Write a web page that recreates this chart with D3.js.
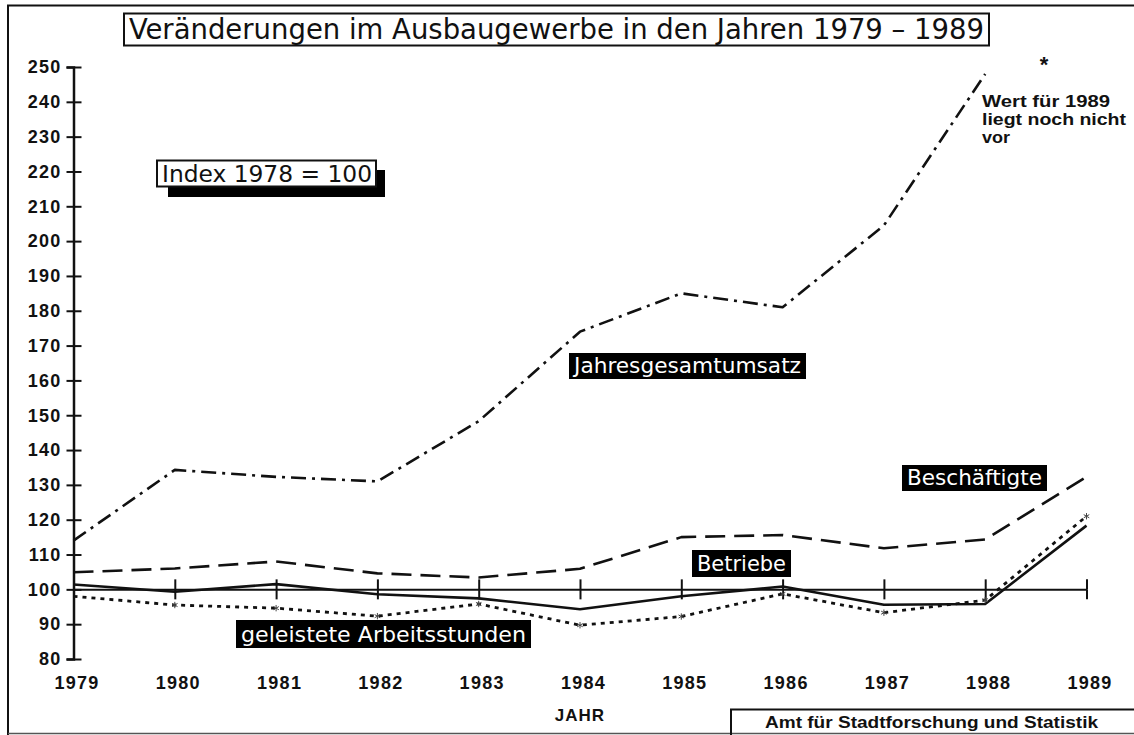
<!DOCTYPE html>
<html>
<head>
<meta charset="utf-8">
<script src="https://cdn.jsdelivr.net/npm/d3@7"></script>
<style>
  html, body { margin: 0; padding: 0; background: #fff; }
  svg { display: block; }
  .plot { font-family: "DejaVu Sans Condensed", "Liberation Sans Narrow", "DejaVu Sans", sans-serif; }
  .bold { font-family: "Liberation Sans", Arial, sans-serif; font-weight: bold; }
</style>
</head>
<body>
<svg id="chart" width="1134" height="735"></svg>
<script>
const years = [1979, 1980, 1981, 1982, 1983, 1984, 1985, 1986, 1987, 1988, 1989];
const umsatz = [114, 134.3, 132.3, 131, 148.3, 174, 185, 181, 204.5, 248, null];
const beschaeftigte = [104.9, 106, 108, 104.6, 103.4, 105.9, 115, 115.6, 111.8, 114.3, 132.3];
const betriebe = [101.4, 99.3, 101.5, 98.6, 97.4, 94.3, 98, 100.8, 95.6, 95.8, 118.3];
const stunden = [98, 95.5, 94.6, 92.3, 95.8, 89.7, 92.2, 98.7, 93.3, 96.9, 121];
const yTicks = [80, 90, 100, 110, 120, 130, 140, 150, 160, 170, 180, 190, 200, 210, 220, 230, 240, 250];

const titleText = "Veränderungen im Ausbaugewerbe in den Jahren 1979 – 1989";
const indexText = "Index 1978 = 100";
const noteLines = ["Wert für 1989", "liegt noch nicht", "vor"];
const sourceText = "Amt für Stadtforschung und Statistik";
const xTitle = "JAHR";

const svg = d3.select("#chart");
const x = d3.scaleLinear().domain([1979, 1989]).range([73.5, 1086.5]);
const y = d3.scaleLinear().domain([80, 250]).range([659, 67]);

// outer frame
svg.append("path").attr("d", "M8,735 L8,5.5 L1134,5.5").attr("fill", "none").attr("stroke", "#111").attr("stroke-width", 2);
svg.append("line").attr("x1", 8).attr("x2", 1134).attr("y1", 733.5).attr("y2", 733.5).attr("stroke", "#555").attr("stroke-width", 1.5);

// title box
svg.append("rect").attr("x", 124).attr("y", 13.5).attr("width", 865).attr("height", 32)
  .attr("fill", "#fff").attr("stroke", "#111").attr("stroke-width", 2);
svg.append("text").attr("class", "plot").attr("x", 129).attr("y", 39)
  .attr("font-size", 28).attr("textLength", 855).attr("lengthAdjust", "spacingAndGlyphs")
  .attr("fill", "#111").text(titleText);

// index box with shadow
svg.append("rect").attr("x", 168).attr("y", 170).attr("width", 217).attr("height", 27).attr("fill", "#000");
svg.append("rect").attr("x", 157).attr("y", 160.5).attr("width", 219).attr("height", 26)
  .attr("fill", "#fff").attr("stroke", "#111").attr("stroke-width", 2);
svg.append("text").attr("class", "plot").attr("x", 162).attr("y", 182)
  .attr("font-size", 23).attr("textLength", 210).attr("lengthAdjust", "spacingAndGlyphs")
  .attr("fill", "#111").text(indexText);

// y axis
const yAxis = svg.append("g").attr("transform", "translate(73.5,0)")
  .call(d3.axisLeft(y).tickValues(yTicks).tickSize(7).tickPadding(5).tickFormat(d3.format("d")));
yAxis.selectAll("text").attr("class", "bold").attr("font-size", 18).attr("letter-spacing", 1.2).attr("fill", "#111");
yAxis.selectAll("line").attr("stroke", "#111").attr("stroke-width", 2);
yAxis.select(".domain").attr("stroke", "#111").attr("stroke-width", 2.5);
const yAxis2 = svg.append("g").attr("transform", "translate(73.5,0)")
  .call(d3.axisLeft(y).tickValues(yTicks).tickSize(-8).tickFormat(""));
yAxis2.selectAll("line").attr("stroke", "#111").attr("stroke-width", 2);
yAxis2.select(".domain").remove();

// 100 baseline with crossing ticks
const baseY = y(100);
const bl = svg.append("g").attr("transform", `translate(0,${baseY})`)
  .call(d3.axisBottom(x).tickValues(years.slice(1)).tickSizeInner(10).tickSizeOuter(0).tickFormat(""));
bl.select(".domain").attr("stroke", "#111").attr("stroke-width", 2);
bl.selectAll("line").attr("stroke", "#111").attr("stroke-width", 2);
const bl2 = svg.append("g").attr("transform", `translate(0,${baseY})`)
  .call(d3.axisBottom(x).tickValues(years.slice(1)).tickSize(-10).tickFormat(""));
bl2.select(".domain").remove();
bl2.selectAll("line").attr("stroke", "#111").attr("stroke-width", 2);

// x labels
const xl = svg.append("g").attr("transform", "translate(3,676)")
  .call(d3.axisBottom(x).tickValues(years).tickSize(0).tickPadding(0).tickFormat(d3.format("d")));
xl.select(".domain").remove();
xl.selectAll("text").attr("class", "bold").attr("font-size", 18).attr("letter-spacing", 1.3).attr("fill", "#111");

svg.append("text").attr("class", "bold").attr("x", 580).attr("y", 721).attr("text-anchor", "middle")
  .attr("font-size", 17).attr("letter-spacing", 1).attr("fill", "#111").text(xTitle);

// lines
function series(vals) {
  return years.map((yr, i) => ({ yr, v: vals[i] })).filter(d => d.v !== null);
}
const lineGen = d3.line().x(d => x(d.yr)).y(d => y(d.v));
const styles = [
  { data: umsatz, dash: "15,6,3,6", w: 2.6 },
  { data: beschaeftigte, dash: "20,9", w: 2.6 },
  { data: betriebe, dash: null, w: 2.6 },
  { data: stunden, dash: "4,5", w: 2.8 }
];
styles.forEach(s => {
  svg.append("path").datum(series(s.data)).attr("d", lineGen)
    .attr("fill", "none").attr("stroke", "#111").attr("stroke-width", s.w)
    .attr("stroke-dasharray", s.dash).attr("stroke-linejoin", "round");
});
// small star markers on Arbeitsstunden
svg.selectAll(".mk").data(series(stunden).slice(1)).join("path")
  .attr("transform", d => `translate(${x(d.yr)},${y(d.v)})`)
  .attr("d", d3.symbol(d3.symbolAsterisk, 28))
  .attr("fill", "none").attr("stroke", "#444").attr("stroke-width", 1);

// black labels
const labels = [
  { t: "Jahresgesamtumsatz", x: 569, y: 353, w: 237, h: 26 },
  { t: "Beschäftigte", x: 902, y: 465, w: 145, h: 26 },
  { t: "Betriebe", x: 692, y: 550, w: 99, h: 27 },
  { t: "geleistete Arbeitsstunden", x: 236, y: 620, w: 295, h: 28 }
];
labels.forEach(l => {
  svg.append("rect").attr("x", l.x).attr("y", l.y).attr("width", l.w).attr("height", l.h).attr("fill", "#000");
  svg.append("text").attr("class", "plot").attr("x", l.x + 5).attr("y", l.y + l.h - 6)
    .attr("font-size", 22).attr("fill", "#fff")
    .attr("textLength", l.w - 10).attr("lengthAdjust", "spacingAndGlyphs").text(l.t);
});

// note
svg.append("text").attr("class", "bold").attr("x", 1044).attr("y", 72).attr("text-anchor", "middle")
  .attr("font-size", 22).attr("fill", "#111").text("*");
const noteWidths = [128, 144, 28];
noteLines.forEach((t, i) => {
  svg.append("text").attr("class", "bold").attr("x", 982).attr("y", 107 + i * 18)
    .attr("font-size", 16).attr("fill", "#111")
    .attr("textLength", noteWidths[i]).attr("lengthAdjust", "spacingAndGlyphs").text(t);
});

// source box
svg.append("path").attr("d", "M731,735 L731,709.5 L1134,709.5").attr("fill", "none").attr("stroke", "#111").attr("stroke-width", 2);
svg.append("text").attr("class", "bold").attr("x", 765).attr("y", 728)
  .attr("font-size", 16).attr("fill", "#111").attr("textLength", 333).attr("lengthAdjust", "spacingAndGlyphs").text(sourceText);
</script>
</body>
</html>
